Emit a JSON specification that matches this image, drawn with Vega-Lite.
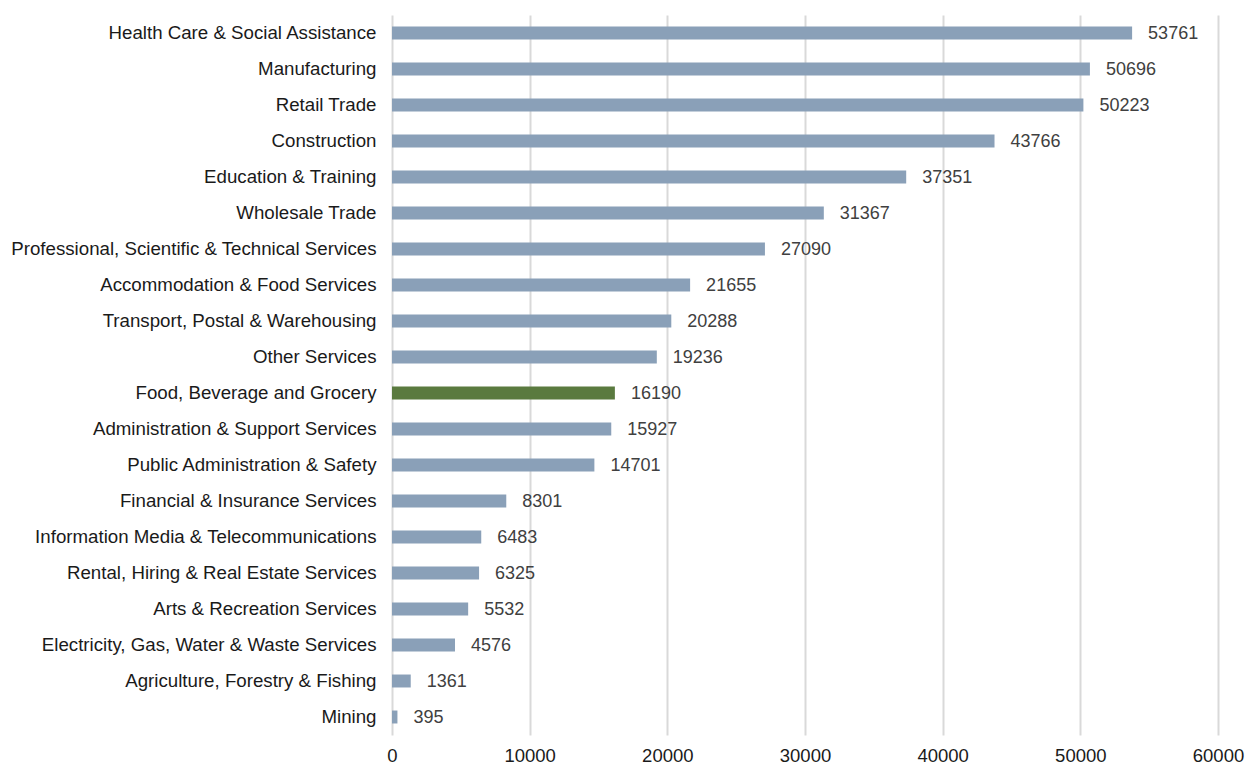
{
  "$schema": "https://vega.github.io/schema/vega-lite/v6.json",
  "width": 826,
  "height": 720,
  "autosize": "none",
  "padding": {"left": 392, "top": 15, "right": 30, "bottom": 30},
  "background": "white",
  "config": {"view": {"stroke": null}, "font": "Liberation Sans"},
  "data": {"values": [
    {"industry": "Health Care & Social Assistance", "value": 53761, "hl": "no"},
    {"industry": "Manufacturing", "value": 50696, "hl": "no"},
    {"industry": "Retail Trade", "value": 50223, "hl": "no"},
    {"industry": "Construction", "value": 43766, "hl": "no"},
    {"industry": "Education & Training", "value": 37351, "hl": "no"},
    {"industry": "Wholesale Trade", "value": 31367, "hl": "no"},
    {"industry": "Professional, Scientific & Technical Services", "value": 27090, "hl": "no"},
    {"industry": "Accommodation & Food Services", "value": 21655, "hl": "no"},
    {"industry": "Transport, Postal & Warehousing", "value": 20288, "hl": "no"},
    {"industry": "Other Services", "value": 19236, "hl": "no"},
    {"industry": "Food, Beverage and Grocery", "value": 16190, "hl": "yes"},
    {"industry": "Administration & Support Services", "value": 15927, "hl": "no"},
    {"industry": "Public Administration & Safety", "value": 14701, "hl": "no"},
    {"industry": "Financial & Insurance Services", "value": 8301, "hl": "no"},
    {"industry": "Information Media & Telecommunications", "value": 6483, "hl": "no"},
    {"industry": "Rental, Hiring & Real Estate Services", "value": 6325, "hl": "no"},
    {"industry": "Arts & Recreation Services", "value": 5532, "hl": "no"},
    {"industry": "Electricity, Gas, Water & Waste Services", "value": 4576, "hl": "no"},
    {"industry": "Agriculture, Forestry & Fishing", "value": 1361, "hl": "no"},
    {"industry": "Mining", "value": 395, "hl": "no"}
  ]},
  "encoding": {
    "y": {"field": "industry", "type": "nominal", "sort": null,
      "scale": {"paddingInner": 0.64, "paddingOuter": 0.32},
      "axis": {"title": null, "domain": false, "ticks": false, "labelPadding": 16,
        "labelFontSize": 18.7, "labelColor": "#1a1a1a", "labelLimit": 400}},
    "x": {"field": "value", "type": "quantitative",
      "scale": {"domain": [0, 60000], "nice": false},
      "axis": {"title": null, "domain": false, "ticks": false, "values": [0,10000,20000,30000,40000,50000,60000],
        "format": "d", "labelFontSize": 18.5, "labelColor": "#1a1a1a", "labelPadding": 11,
        "gridColor": "#d9d9d9", "gridWidth": 2, "labelFlush": false}}
  },
  "layer": [
    {"mark": {"type": "bar"},
      "encoding": {"color": {"field": "hl", "type": "nominal",
        "scale": {"domain": ["no", "yes"], "range": ["#8aa0b8", "#5a7a3f"]}, "legend": null}}},
    {"mark": {"type": "text", "align": "left", "dx": 16, "dy": 1, "fontSize": 18, "color": "#404040"},
      "encoding": {"text": {"field": "value", "type": "quantitative", "format": "d"}}}
  ]
}
